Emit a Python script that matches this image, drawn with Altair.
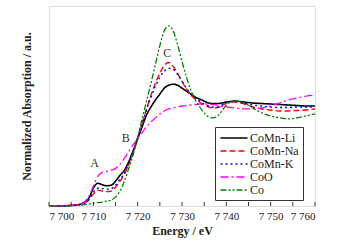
import altair as alt
import pandas as pd

energy = [7700, 7704, 7706, 7707, 7708, 7709, 7710, 7711, 7712, 7713, 7714, 7715,
          7716, 7717, 7718, 7719, 7720, 7721, 7722, 7723, 7724, 7725, 7726, 7727,
          7728, 7729, 7730, 7731, 7732, 7733, 7734, 7735, 7736, 7737, 7738, 7739,
          7740, 7741, 7742, 7744, 7746, 7748, 7750, 7752, 7754, 7756, 7758, 7760]

comn_li = [0, 0.003, 0.01, 0.017, 0.04, 0.08, 0.18, 0.23, 0.215, 0.205, 0.21, 0.25,
           0.31, 0.36, 0.45, 0.56, 0.68, 0.80, 0.92, 1.00, 1.07, 1.13, 1.19, 1.22,
           1.23, 1.22, 1.19, 1.16, 1.13, 1.10, 1.08, 1.06, 1.04, 1.035, 1.035, 1.04,
           1.05, 1.055, 1.06, 1.05, 1.04, 1.035, 1.03, 1.025, 1.02, 1.015, 1.01, 1.01]
comn_na = [0, 0.003, 0.01, 0.015, 0.03, 0.06, 0.12, 0.16, 0.15, 0.145, 0.15, 0.19,
           0.25, 0.32, 0.42, 0.54, 0.68, 0.83, 0.98, 1.12, 1.24, 1.34, 1.42, 1.45,
           1.41, 1.34, 1.26, 1.18, 1.12, 1.08, 1.05, 1.02, 1.00, 0.99, 0.995, 1.01,
           1.04, 1.05, 1.05, 1.03, 1.0, 0.98, 0.97, 0.96, 0.96, 0.965, 0.97, 0.98]
comn_k = [0, 0.003, 0.01, 0.015, 0.03, 0.07, 0.14, 0.18, 0.175, 0.17, 0.175, 0.21,
          0.27, 0.33, 0.43, 0.55, 0.69, 0.83, 0.97, 1.10, 1.21, 1.30, 1.36, 1.39,
          1.38, 1.33, 1.26, 1.19, 1.13, 1.09, 1.06, 1.03, 1.01, 1.00, 1.00, 1.02,
          1.045, 1.055, 1.055, 1.04, 1.02, 1.01, 1.00, 0.995, 0.995, 1.0, 1.0, 1.0]
coo = [0, 0.004, 0.012, 0.02, 0.04, 0.10, 0.20, 0.30, 0.34, 0.35, 0.36, 0.38,
       0.42, 0.48, 0.55, 0.62, 0.68, 0.74, 0.80, 0.85, 0.89, 0.93, 0.96, 0.98,
       0.99, 1.0, 1.01, 1.015, 1.02, 1.025, 1.03, 1.03, 1.03, 1.025, 1.02, 1.01,
       1.00, 0.995, 0.99, 0.98, 0.98, 0.99, 1.01, 1.04, 1.07, 1.09, 1.11, 1.12]
co = [0, 0.002, 0.005, 0.008, 0.015, 0.02, 0.03, 0.035, 0.04, 0.05, 0.06, 0.09,
      0.15, 0.25, 0.38, 0.52, 0.70, 0.88, 1.06, 1.24, 1.43, 1.62, 1.77, 1.82,
      1.77, 1.63, 1.46, 1.30, 1.17, 1.07, 1.00, 0.94, 0.90, 0.89, 0.91, 0.96,
      1.02, 1.05, 1.06, 1.04, 0.99, 0.94, 0.91, 0.89, 0.88, 0.89, 0.91, 0.93]

series_names = ["CoMn-Li", "CoMn-Na", "CoMn-K", "CoO", "Co"]
series_values = [comn_li, comn_na, comn_k, coo, co]
series_colors = ["#000000", "#ff0000", "#0000ff", "#ff00ff", "#008000"]
series_dashes = [[1, 0], [6, 3], [2, 3], [8, 3, 2, 3], [6, 2, 2, 2, 2, 2]]
series_widths = [1.6, 1.4, 1.4, 1.3, 1.3]
draw_order = [4, 3, 2, 1, 0]

peak_labels = ["A", "B", "C"]
peak_x = [7710.3, 7717.3, 7726.7]
peak_y = [0.43, 0.69, 1.55]

major_ticks = [7700, 7710, 7720, 7730, 7740, 7750, 7760]
all_ticks = [7700, 7705, 7710, 7715, 7720, 7725, 7730, 7735, 7740, 7745, 7750, 7755, 7760]

rows = []
for name, vals, order, w in zip(series_names, series_values, draw_order, series_widths):
    for e, v in zip(energy, vals):
        rows.append({"energy": e, "value": v, "series": name, "order": order, "w": w})
df = pd.DataFrame(rows)

FONT = "Liberation Serif"
xscale = alt.Scale(domain=[7700, 7760], nice=False, zero=False)
yscale = alt.Scale(domain=[0, 2.02], nice=False, zero=True)


def make_legend():
    return alt.Legend(title=None, orient="none", legendX=166, legendY=121,
                      strokeColor="#333", fillColor="white", padding=4,
                      cornerRadius=0,
                      symbolType="M-2.25,0H2.25", symbolSize=144, symbolStrokeWidth=1.5,
                      symbolOffset=8,
                      labelFont=FONT, labelFontSize=12, labelColor="#222",
                      labelOffset=9, rowPadding=0)


lines = alt.Chart(df).mark_line(interpolate="monotone").encode(
    x=alt.X("energy:Q", scale=xscale,
            axis=alt.Axis(title="Energy / eV", values=major_ticks, ticks=False, domain=False,
                          grid=False, labelFont=FONT, labelFontSize=11, labelColor="#222",
                          labelPadding=4,
                          labelExpr="slice(toString(datum.value),0,1) + ' ' + slice(toString(datum.value),1)",
                          titleFont=FONT, titleFontSize=12, titleFontWeight="bold",
                          titleColor="#222", titlePadding=4)),
    y=alt.Y("value:Q", scale=yscale,
            axis=alt.Axis(title="Normalized Absorption / a.u.", labels=False, ticks=False,
                          domain=False, grid=False, titleFont=FONT, titleFontSize=12,
                          titleFontWeight="bold", titleColor="#222", titlePadding=16)),
    color=alt.Color("series:N", scale=alt.Scale(domain=series_names, range=series_colors),
                    legend=make_legend()),
    strokeDash=alt.StrokeDash("series:N", scale=alt.Scale(domain=series_names, range=series_dashes),
                              legend=make_legend()),
    strokeWidth=alt.StrokeWidth("w:Q", scale=None, legend=None),
    order=alt.Order("order:Q"),
    detail="series:N",
)

tick_df = pd.DataFrame({"t": all_ticks, "y0": [0] * len(all_ticks), "y1": [0.04] * len(all_ticks)})
ticks = alt.Chart(tick_df).mark_rule(color="#333", strokeWidth=1).encode(
    x=alt.X("t:Q", scale=xscale),
    y=alt.Y("y0:Q", scale=yscale),
    y2="y1:Q",
)

lab_df = pd.DataFrame({"label": peak_labels, "x": peak_x, "y": peak_y})
labels = alt.Chart(lab_df).mark_text(font=FONT, fontSize=12, color="#333").encode(
    x=alt.X("x:Q", scale=xscale),
    y=alt.Y("y:Q", scale=yscale),
    text="label:N",
)

chart = alt.layer(lines, ticks, labels).properties(
    width=266, height=200,
    autosize=alt.AutoSizeParams(type="none"),
    padding={"left": 49, "top": 6, "right": 24, "bottom": 43},
).configure_view(stroke="#333", strokeWidth=1).configure(background="white")

chart.save("out.html", embed_options={"renderer": "svg", "actions": False})
